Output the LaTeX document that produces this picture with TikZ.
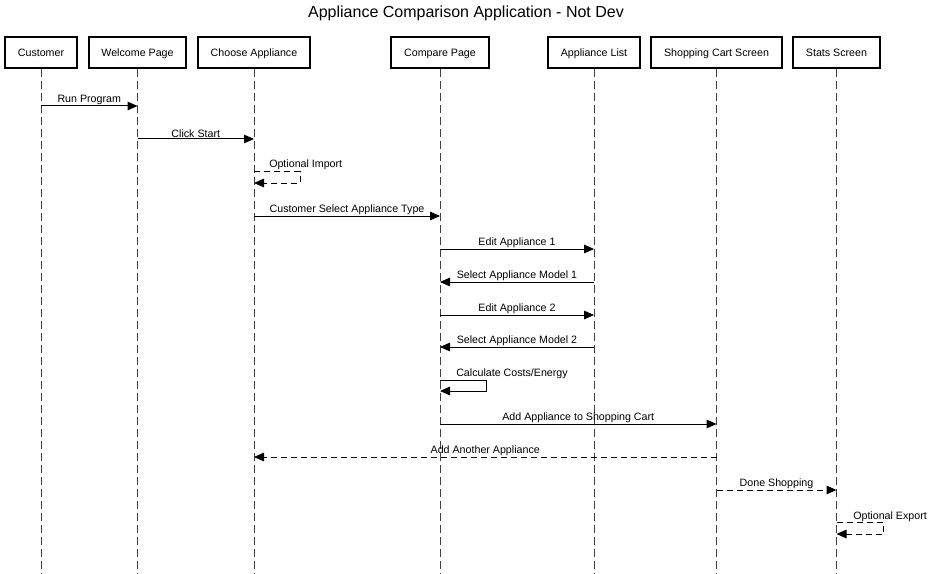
\documentclass[tikz,border=0pt]{standalone}
\usepackage{fontspec}
\setmainfont{Liberation Sans}
\usetikzlibrary{arrows.meta}
\begin{document}
\begin{tikzpicture}[x=0.75pt,y=-0.75pt,
  headbox/.style={draw,line width=1.5pt,minimum height=31*0.75pt,inner sep=0pt,text height=8pt,text depth=1.6pt,font=\fontsize{8pt}{10pt}\selectfont},
  lifeline/.style={draw=black!75,line width=0.75pt,dash pattern=on 6pt off 3pt},
  msg/.style={line width=0.75pt,-{Triangle[length=7.5pt,width=6.5pt]}},
  rmsg/.style={msg,dash pattern=on 4.5pt off 3pt},
  lbl/.style={font=\fontsize{8pt}{10pt}\selectfont,above,inner sep=0.4pt},
  slbl/.style={font=\fontsize{8pt}{10pt}\selectfont,anchor=base west,inner sep=0pt}]
\useasboundingbox (0,0) rectangle (931,574);
\node[font=\fontsize{12pt}{14pt}\selectfont] (title) at (466,13) {Appliance Comparison Application - Not Dev};
\node[headbox,minimum width=72*0.75pt] (cust) at (41,52.5) {Customer};
\node[headbox,minimum width=97*0.75pt] (welc) at (137.5,52.5) {Welcome Page};
\node[headbox,minimum width=112*0.75pt] (choose) at (254,52.5) {Choose Appliance};
\node[headbox,minimum width=98*0.75pt] (comp) at (440,52.5) {Compare Page};
\node[headbox,minimum width=92*0.75pt] (list) at (594,52.5) {Appliance List};
\node[headbox,minimum width=131*0.75pt] (cart) at (716.5,52.5) {Shopping Cart Screen};
\node[headbox,minimum width=87*0.75pt] (stats) at (836.5,52.5) {Stats Screen};
\foreach \n in {cust,welc,choose,comp,list,cart,stats}{
  \coordinate (\n end) at (\n.south |- 0,574);
  \draw[lifeline] (\n.south) -- (\n end);
}
% messages
\draw[msg] (cust.south |- 0,106) -- node[lbl]{Run Program} (welc.south |- 0,106);
\draw[msg] (welc.south |- 0,139) -- node[lbl]{Click Start} (choose.south |- 0,139);
\draw[rmsg] (choose.south |- 0,172) -| (300,183) -- (choose.south |- 0,183);
\node[slbl] (l3) at (269,168) {Optional Import};
\draw[msg] (choose.south |- 0,216) -- node[lbl]{Customer Select Appliance Type} (comp.south |- 0,216);
\draw[msg] (comp.south |- 0,249) -- node[lbl]{Edit Appliance 1} (list.south |- 0,249);
\draw[msg] (list.south |- 0,282) -- node[lbl]{Select Appliance Model 1} (comp.south |- 0,282);
\draw[msg] (comp.south |- 0,315) -- node[lbl]{Edit Appliance 2} (list.south |- 0,315);
\draw[msg] (list.south |- 0,347) -- node[lbl]{Select Appliance Model 2} (comp.south |- 0,347);
\draw[msg] (comp.south |- 0,380) -| (486,391) -- (comp.south |- 0,391);
\node[slbl] (l9) at (456,376) {Calculate Costs/Energy};
\draw[msg] (comp.south |- 0,424) -- node[lbl]{Add Appliance to Shopping Cart} (cart.south |- 0,424);
\draw[rmsg] (cart.south |- 0,457) -- node[lbl]{Add Another Appliance} (choose.south |- 0,457);
\draw[rmsg] (cart.south |- 0,490) -- node[lbl]{Done Shopping} (stats.south |- 0,490);
\draw[rmsg] (stats.south |- 0,522) -| (883,534) -- (stats.south |- 0,534);
\node[slbl] (l13) at (853,519) {Optional Export};
\end{tikzpicture}
\end{document}
